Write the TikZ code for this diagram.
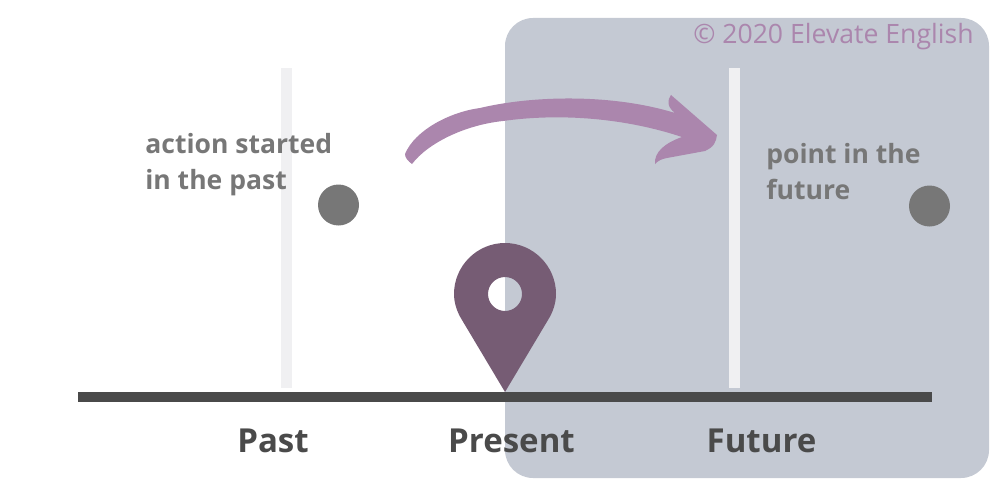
\documentclass[tikz,border=0pt]{standalone}
\usepackage{fontspec}
\setmainfont{Open Sans}
\usepackage{xcolor}
\definecolor{slatebg}{HTML}{C4C9D3}
\definecolor{barlight}{HTML}{F0F0F2}
\definecolor{linedark}{HTML}{4A4A4A}
\definecolor{dotgrey}{HTML}{777777}
\definecolor{arrowmauve}{HTML}{AB86AD}
\definecolor{pinplum}{HTML}{765C74}
\tikzset{
  marklabel/.style={anchor=base,font=\bfseries\fontsize{18.8}{22}\selectfont,text=linedark,inner sep=0pt},
  notelabel/.style={anchor=north west,align=left,font=\bfseries\fontsize{15.1}{20.6}\selectfont,text=dotgrey,inner sep=0pt},
  timebar/.style={fill=barlight,draw=none},
  eventdot/.style={fill=dotgrey,draw=none}
}

\begin{document}
\begin{tikzpicture}[x=0.02cm,y=-0.02cm]
\useasboundingbox (0,0) rectangle (1000,500);
\fill[slatebg,rounded corners=0.56cm] (505,18) rectangle (989,478);

\foreach \x in {281,729} {
    \fill[timebar] (\x,68) rectangle (\x+11,388);
}
\fill[linedark] (78,392) rectangle (932,402);

\foreach \x/\y in {338.5/205, 929.5/206} {
    \fill[eventdot] (\x,\y) circle [radius=20.5];
}

% arrow
\fill[arrowmauve] (405,154) .. controls (415,130) and (450,112) .. (480,108)
    .. controls (530,96) and (610,93) .. (675,113)
    .. controls (667,107) and (667,100) .. (671,95)
    -- (717,135) .. controls (716,142) and (714,147) .. (705,151)
    -- (667,158) .. controls (661,159) and (658,161) .. (655,164)
    .. controls (654,152) and (665,143) .. (682,137)
    .. controls (625,118) and (560,113) .. (503,121)
    .. controls (465,125) and (428,143) .. (412,164)
    .. controls (408,161) and (405,158) .. (405,154) -- cycle;

% pin
\fill[pinplum,even odd rule] (505,392) -- (462,320)
    .. controls (457,312) and (454,303) .. (454,294)
    .. controls (454,266) and (477,243) .. (505,243)
    .. controls (533,243) and (556,266) .. (556,294)
    .. controls (556,303) and (553,312) .. (548,320) -- cycle
    (505,294) circle [radius=17];

\node[marklabel] (past) at (273,452) {Past};
\node[marklabel] (present) at (511.5,452) {Present};
\node[marklabel] (future) at (761.5,452) {Future};

\node[notelabel] (started) at (145,133) {action started\\in the past};
\node[notelabel] (point) at (766,142.5) {point in the\\future};
\node[anchor=base east,inner sep=0pt,text=arrowmauve,font=\fontsize{15.15}{18}\selectfont] (credit) at (974,44) {© 2020 Elevate English};
\end{tikzpicture}
\end{document}
